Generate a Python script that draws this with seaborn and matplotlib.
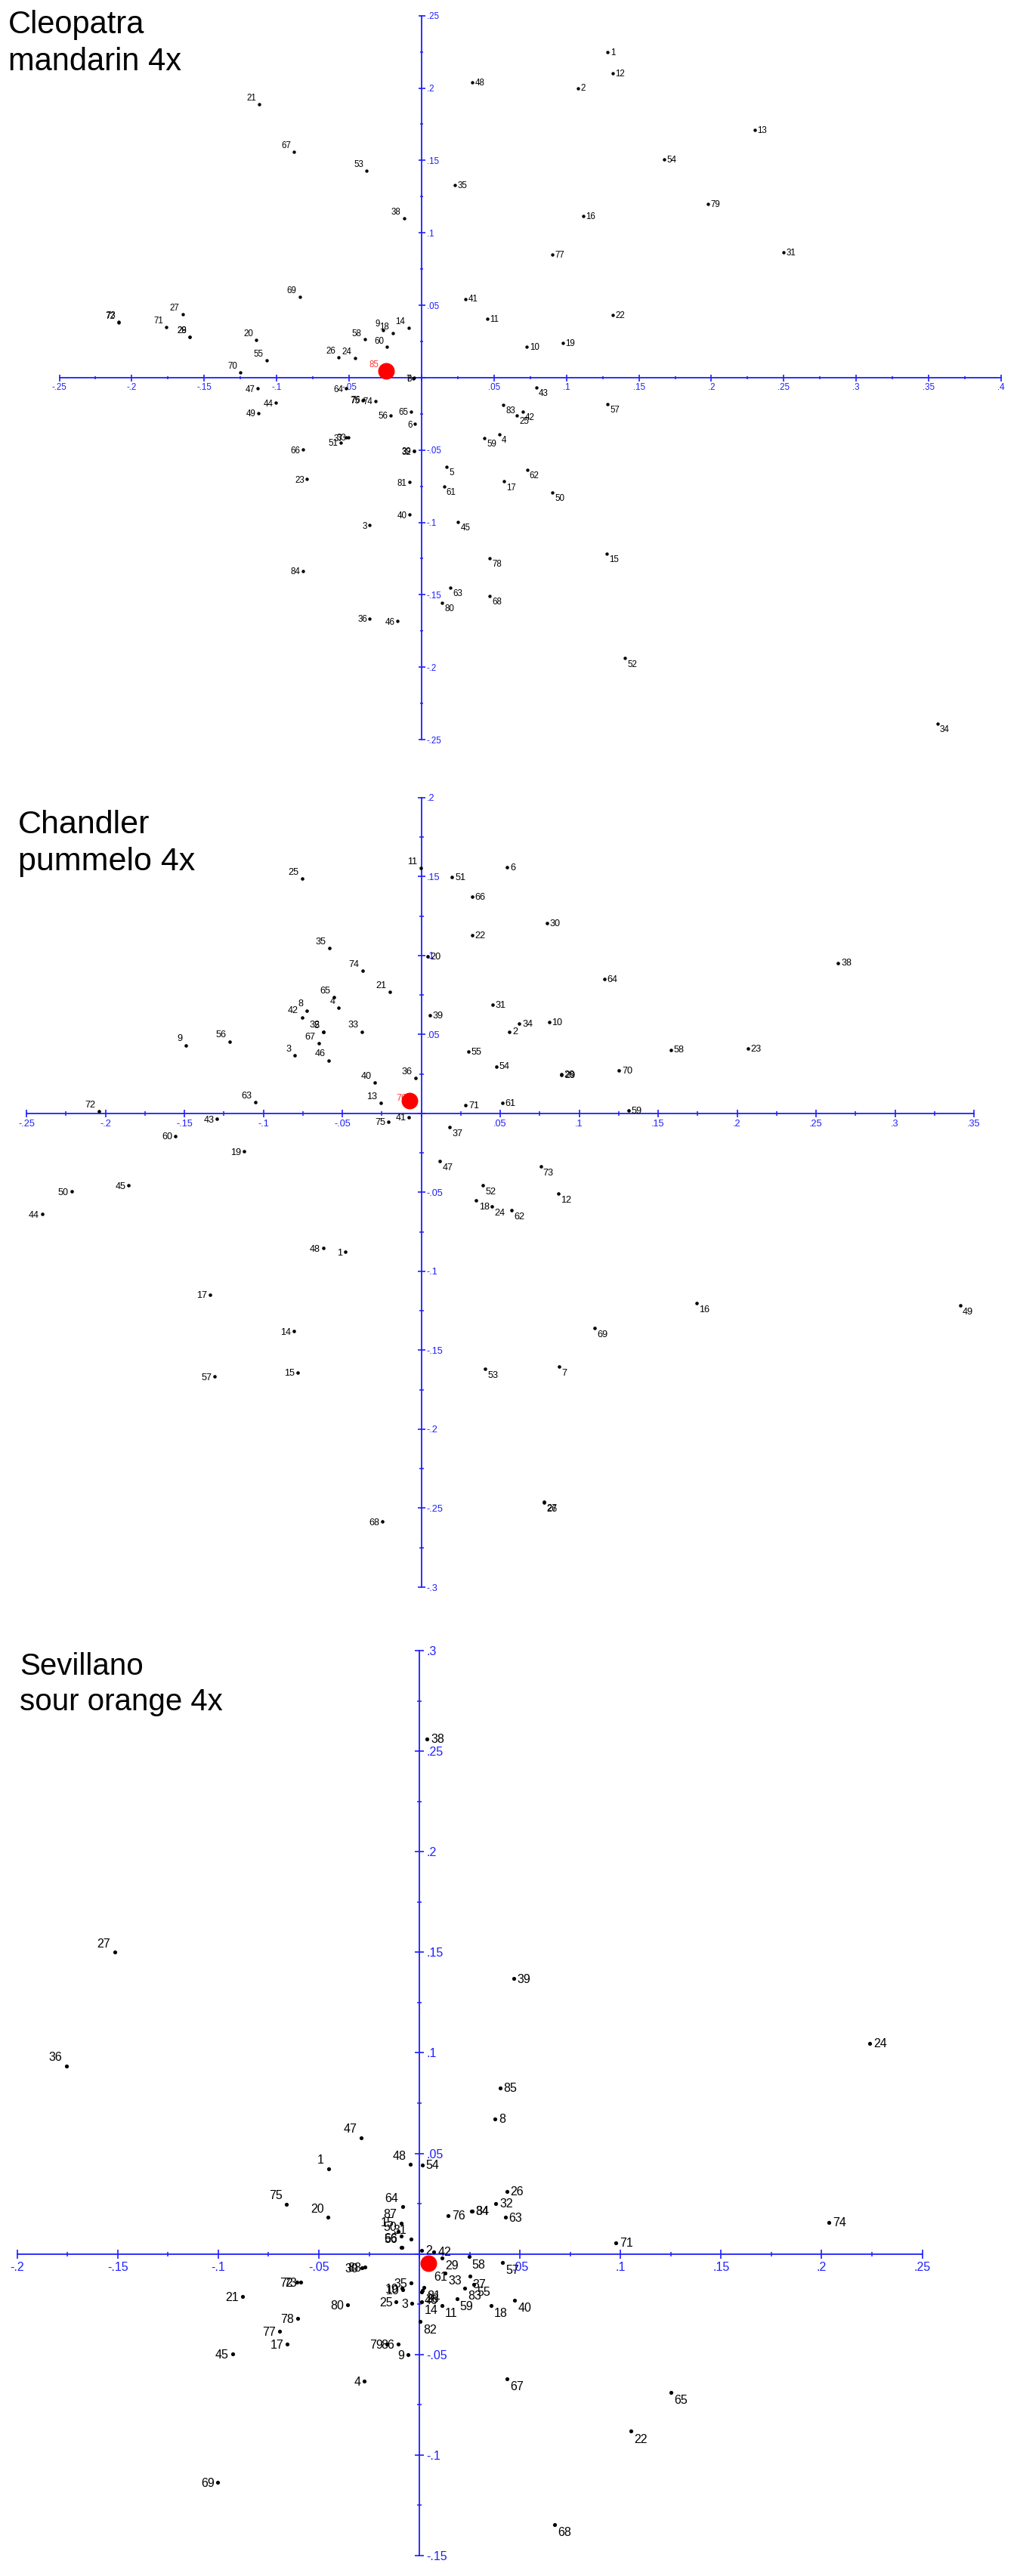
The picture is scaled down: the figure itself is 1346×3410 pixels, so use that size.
import matplotlib
matplotlib.use("Agg")
import matplotlib.pyplot as plt
import seaborn as sns
import pandas as pd
from matplotlib import font_manager
from matplotlib.ticker import MultipleLocator, FuncFormatter

# ---------------- data: panel 1 (Cleopatra mandarin 4x) ----------------
p1_labels = ["1", "2", "3", "4", "5", "6", "7", "8", "9", "10", "11", "12", "13", "14", "15",
             "16", "17", "18", "19", "20", "21", "22", "23", "24", "25", "26", "27", "28", "29",
             "31", "32", "33", "34", "35", "36", "37", "38", "39", "40", "41", "42", "43", "44",
             "45", "46", "47", "48", "49", "50", "51", "52", "53", "54", "55", "56", "57", "58",
             "59", "60", "61", "62", "63", "64", "65", "66", "67", "68", "69", "70", "71", "72",
             "73", "74", "75", "76", "77", "78", "79", "80", "81", "83", "84"]
p1_x = [0.1285, 0.108, -0.0359, 0.0535, 0.0174, -0.0045, -0.0056, -0.0052, -0.0266, 0.0727,
        0.0453, 0.132, 0.230, -0.009, 0.128, 0.1117, 0.057, -0.020, 0.0975, -0.114, -0.112,
        0.132, -0.079, -0.046, 0.066, -0.0571, -0.165, -0.160, -0.1598, 0.250, -0.0054,
        -0.0503, 0.356, 0.023, -0.0357, -0.052, -0.012, -0.0052, -0.0083, 0.0305, 0.0697,
        0.0791, -0.1007, 0.0253, -0.0166, -0.113, 0.035, -0.1128, 0.0904, -0.0559, 0.1404,
        -0.038, 0.1675, -0.107, -0.0216, 0.1285, -0.0392, 0.0434, -0.0239, 0.0155, 0.0728,
        0.020, -0.0523, -0.0071, -0.0818, -0.088, 0.047, -0.084, -0.125, -0.176, -0.2092,
        -0.209, -0.032, -0.0405, -0.0402, 0.090, 0.047, 0.1975, 0.0143, -0.0084, 0.0566, -0.0818]
p1_y = [0.2246, 0.200, -0.1019, -0.0394, -0.0614, -0.032, -0.0006, -0.0003, 0.033, 0.0214,
        0.0404, 0.210, 0.171, 0.0345, -0.1216, 0.1115, -0.0718, 0.0307, 0.0239, 0.026, 0.189,
        0.0432, -0.070, 0.0137, -0.026, 0.0139, 0.0436, 0.028, 0.0283, 0.0866, -0.0507,
        -0.0412, -0.239, 0.133, -0.1665, -0.0415, 0.110, -0.0505, -0.0946, 0.0544, -0.0237,
        -0.007, -0.0174, -0.0998, -0.1683, -0.0075, 0.204, -0.0244, -0.0793, -0.0448, -0.1939,
        0.143, 0.1505, 0.012, -0.026, -0.0185, 0.0263, -0.0416, 0.0211, -0.0751, -0.0638,
        -0.145, -0.0075, -0.0235, -0.0498, 0.156, -0.151, 0.056, 0.0035, 0.0347, 0.0382,
        0.0385, -0.016, -0.0155, -0.0152, 0.085, -0.1247, 0.120, -0.1556, -0.0722, -0.019, -0.1336]
p1_ref_label = "85"
p1_ref_x = [-0.0243]
p1_ref_y = [0.0044]

# ---------------- data: panel 2 (Chandler pummelo 4x) ----------------
p2_labels = ["1", "2", "3", "4", "5", "6", "7", "8", "9", "10", "11", "12", "13", "14", "15",
             "16", "17", "18", "19", "20", "21", "22", "23", "24", "25", "26", "27", "28", "29",
             "30", "31", "32", "33", "34", "35", "36", "37", "38", "39", "40", "41", "42", "43",
             "44", "45", "46", "47", "48", "49", "50", "51", "52", "53", "54", "55", "56", "57",
             "58", "59", "60", "61", "62", "63", "64", "65", "66", "67", "68", "69", "70", "71",
             "72", "73", "74", "75"]
p2_x = [-0.0482, 0.0559, -0.080, -0.0523, -0.0622, 0.0544, 0.0875, -0.0727, -0.1492, 0.0809,
        -0.0004, 0.0867, -0.0257, -0.0805, -0.0784, 0.1743, -0.1338, 0.0349, -0.1123, 0.0041,
        -0.0199, 0.0322, 0.2069, 0.0447, -0.0755, 0.0776, 0.0778, 0.0887, 0.0889, 0.0795,
        0.0452, -0.062, -0.0376, 0.0622, -0.0583, -0.0037, 0.0179, 0.264, 0.0053, -0.0293,
        -0.0078, -0.0755, -0.1293, -0.2401, -0.1853, -0.0585, 0.0119, -0.0622, 0.3412, -0.2215,
        0.0195, 0.039, 0.0404, 0.0474, 0.030, -0.1211, -0.1307, 0.158, 0.1314, -0.1556, 0.0513,
        0.0571, -0.1051, 0.116, -0.0552, 0.0322, -0.065, -0.0246, 0.1099, 0.1252, 0.0281,
        -0.2042, 0.0756, -0.0369, -0.0209]
p2_y = [-0.0876, 0.0519, 0.0367, 0.0669, 0.0517, 0.156, -0.1602, 0.0652, 0.0433, 0.058,
        0.1553, -0.0509, 0.0067, -0.138, -0.1641, -0.120, -0.1146, -0.0551, -0.0241, 0.0993,
        0.0771, 0.113, 0.041, -0.0589, 0.1488, -0.2462, -0.246, 0.0247, 0.0245, 0.1206,
        0.0689, 0.0519, 0.0519, 0.0567, 0.1048, 0.0225, -0.0085, 0.0954, 0.0621, 0.0196,
        -0.0022, 0.0609, -0.0034, -0.0638, -0.0455, 0.0336, -0.030, -0.0852, -0.1214, -0.0494,
        0.1497, -0.0453, -0.1616, 0.0299, 0.0391, 0.0456, -0.1667, 0.0404, 0.002, -0.0143,
        0.0068, -0.0611, 0.0072, 0.0852, 0.0737, 0.1374, 0.0444, -0.2585, -0.136, 0.0273,
        0.0051, 0.0014, -0.0334, 0.0904, -0.0051]
p2_ref_label = "76"
p2_ref_x = [-0.0072]
p2_ref_y = [0.0080]

# ---------------- data: panel 3 (Sevillano sour orange 4x) ----------------
p3_labels = ["1", "2", "3", "4", "8", "9", "10", "11", "14", "15", "17", "18", "19", "20", "21",
             "22", "24", "25", "26", "27", "28", "29", "30", "31", "32", "33", "34", "35", "36",
             "37", "38", "39", "40", "42", "45", "46", "47", "48", "50", "54", "55", "56", "57",
             "58", "59", "61", "63", "64", "65", "66", "67", "68", "69", "71", "72", "73", "74",
             "75", "76", "77", "78", "79", "80", "81", "82", "83", "84", "85", "86", "87", "88"]
p3_x = [-0.0452, 0.0012, -0.0039, -0.0273, 0.0377, -0.0055, -0.0083, 0.0112, 0.0011, -0.0106,
        -0.0658, 0.0355, -0.0085, -0.0454, -0.0881, 0.1051, 0.2239, -0.0115, 0.0434, -0.1516,
        0.0014, 0.0112, -0.0284, -0.0043, 0.0381, 0.0129, 0.026, -0.0043, -0.1755, 0.025,
        0.0039, 0.0468, 0.0475, 0.0073, -0.0929, 0.001, -0.029, -0.0045, -0.0092, 0.0013,
        0.0271, -0.0087, 0.0413, 0.0246, 0.0186, 0.0055, 0.0427, -0.0082, 0.1252, -0.0089,
        0.0434, 0.0674, -0.1002, 0.0977, -0.061, -0.059, 0.2037, -0.066, 0.0144, -0.0695,
        -0.0606, -0.0163, -0.0356, 0.0023, 0.0002, 0.0227, 0.0262, 0.040, -0.0106, -0.0092, -0.027]
p3_y = [0.0425, 0.0019, -0.0246, -0.0634, 0.0672, -0.050, -0.0176, -0.0256, -0.0239, 0.0113,
        -0.0449, -0.0256, -0.0172, 0.0181, -0.0211, -0.0882, 0.1048, -0.0237, 0.031, 0.150,
        -0.0182, -0.0019, -0.0067, 0.0075, 0.0251, -0.0095, 0.0213, -0.0144, 0.0934, -0.0112,
        0.2562, 0.1368, -0.023, 0.0009, -0.0497, -0.019, 0.0579, 0.0444, 0.0088, 0.0442,
        -0.015, 0.0031, -0.0042, -0.0014, -0.0223, -0.0074, 0.0181, 0.0234, -0.0688, 0.0033,
        -0.0621, -0.1346, -0.1136, 0.0056, -0.0139, -0.0139, 0.0155, 0.0247, 0.0191, -0.0385,
        -0.0319, -0.0449, -0.0254, -0.0167, -0.0337, -0.0169, 0.0212, 0.0827, -0.0449, 0.0153, -0.0066]
p3_ref_label = ""
p3_ref_x = [0.0044]
p3_ref_y = [-0.0045]

titles = ["Cleopatra\nmandarin 4x", "Chandler\npummelo 4x", "Sevillano\nsour orange 4x"]

# ---------------- styling ----------------
sns.set_theme(style="white")
available = {f.name for f in font_manager.fontManager.ttflist}
label_font = "Liberation Sans Narrow" if "Liberation Sans Narrow" in available else "Liberation Sans"
title_font = "Liberation Sans" if "Liberation Sans" in available else "DejaVu Sans"
plt.rcParams["font.family"] = [label_font, "DejaVu Sans"]

W, H = 1346, 3410
fig = plt.figure(figsize=(W / 100, H / 100), dpi=100)

AXIS_BLUE = "#1f1fff"
PX = 0.72  # points per pixel at 100 dpi

# layout in pixels: (left_px, right_px, top_px, bottom_px), limits, text scale, title position
layout = [
    dict(box=(78.5, 1325, 20.7, 979), xlim=(-0.25, 0.40), ylim=(-0.25, 0.25), k=1.0,
         tpos=(11, 13), tsize=30),
    dict(box=(35, 1289, 1056, 2101), xlim=(-0.25, 0.35), ylim=(-0.30, 0.20), k=1.09,
         tpos=(24, 1072), tsize=31),
    dict(box=(22.7, 1220.5, 2185, 3383), xlim=(-0.20, 0.25), ylim=(-0.15, 0.30), k=1.39,
         tpos=(26, 2187), tsize=29),
]
data = [
    (p1_labels, p1_x, p1_y, p1_ref_label, p1_ref_x, p1_ref_y, (-10, 5)),
    (p2_labels, p2_x, p2_y, p2_ref_label, p2_ref_x, p2_ref_y, (-4, 0)),
    (p3_labels, p3_x, p3_y, p3_ref_label, p3_ref_x, p3_ref_y, (-4, 0)),
]


def tick_fmt(v, pos):
    if abs(v) < 1e-9:
        return ""
    s = f"{v:.3f}".rstrip("0").rstrip(".")
    return s.replace("0.", ".", 1)


for lay, (labs, xs, ys, rlab, rx, ry, roff), title in zip(layout, data, titles):
    l, r, t, b = lay["box"]
    ax = fig.add_axes([l / W, 1 - b / H, (r - l) / W, (b - t) / H])
    ax.set_facecolor("none")
    k = lay["k"]
    df = pd.DataFrame({"x": xs, "y": ys, "label": labs})
    sns.scatterplot(data=df, x="x", y="y", ax=ax, color="black", s=10 * k, linewidth=0,
                    marker="o", legend=False, zorder=3)
    ref = pd.DataFrame({"x": rx, "y": ry})
    sns.scatterplot(data=ref, x="x", y="y", ax=ax, color="#ff0000", s=250, linewidth=0,
                    legend=False, zorder=6)
    ax.set_xlim(*lay["xlim"])
    ax.set_ylim(*lay["ylim"])
    ax.set_xlabel("")
    ax.set_ylabel("")
    ax.grid(False)

    # axes crossing at origin
    ax.spines["left"].set_visible(False)
    ax.spines["top"].set_visible(False)
    ax.spines["bottom"].set_position(("data", 0))
    ax.spines["right"].set_position(("data", 0))
    for sp in ("bottom", "right"):
        ax.spines[sp].set_color(AXIS_BLUE)
        ax.spines[sp].set_linewidth(1.3)
        ax.spines[sp].set_zorder(1)
    ax.xaxis.set_ticks_position("bottom")
    ax.yaxis.set_ticks_position("right")
    ax.xaxis.set_major_locator(MultipleLocator(0.05))
    ax.yaxis.set_major_locator(MultipleLocator(0.05))
    ax.xaxis.set_minor_locator(MultipleLocator(0.025))
    ax.yaxis.set_minor_locator(MultipleLocator(0.025))
    ax.xaxis.set_major_formatter(FuncFormatter(tick_fmt))
    ax.yaxis.set_major_formatter(FuncFormatter(tick_fmt))
    fs = 8.3 * k
    ax.tick_params(axis="both", which="major", direction="inout", length=9 * PX * k,
                   width=1.2, colors=AXIS_BLUE, labelsize=fs)
    ax.tick_params(axis="both", which="minor", direction="inout", length=5 * PX * k,
                   width=1.1, colors=AXIS_BLUE)
    ax.tick_params(axis="x", which="major", pad=2.0 * k)
    ax.tick_params(axis="y", which="major", pad=1.5 * k)

    # point labels, placed by quadrant
    for lab, x, y in zip(labs, xs, ys):
        if x >= 0 and y >= 0:
            off, ha, va = (2.5 * k, 0.5 * k), "left", "center_baseline"
        elif x < 0 and y >= 0:
            off, ha, va = (-3.0 * k, 3.5 * k), "right", "baseline"
        elif x < 0 and y < 0:
            off, ha, va = (-2.5 * k, 0), "right", "center_baseline"
        else:
            off, ha, va = (2.2 * k, -8.0 * k), "left", "baseline"
        ax.annotate(lab, (x, y), xytext=off, textcoords="offset points", ha=ha, va=va,
                    fontsize=fs, color="black", annotation_clip=False, zorder=4)
    if rlab:
        ax.annotate(rlab, (rx[0], ry[0]), xytext=(roff[0] * PX, roff[1] * PX),
                    textcoords="offset points", ha="right", va="baseline", fontsize=fs,
                    color="#ff3b3b", annotation_clip=False, zorder=5)

    tx, ty = lay["tpos"]
    fig.text(tx / W, 1 - ty / H, title, ha="left", va="top", fontsize=lay["tsize"],
             family=[title_font, "DejaVu Sans"], color="black", linespacing=1.3)

fig.savefig("out.png", dpi=100, facecolor="white")
